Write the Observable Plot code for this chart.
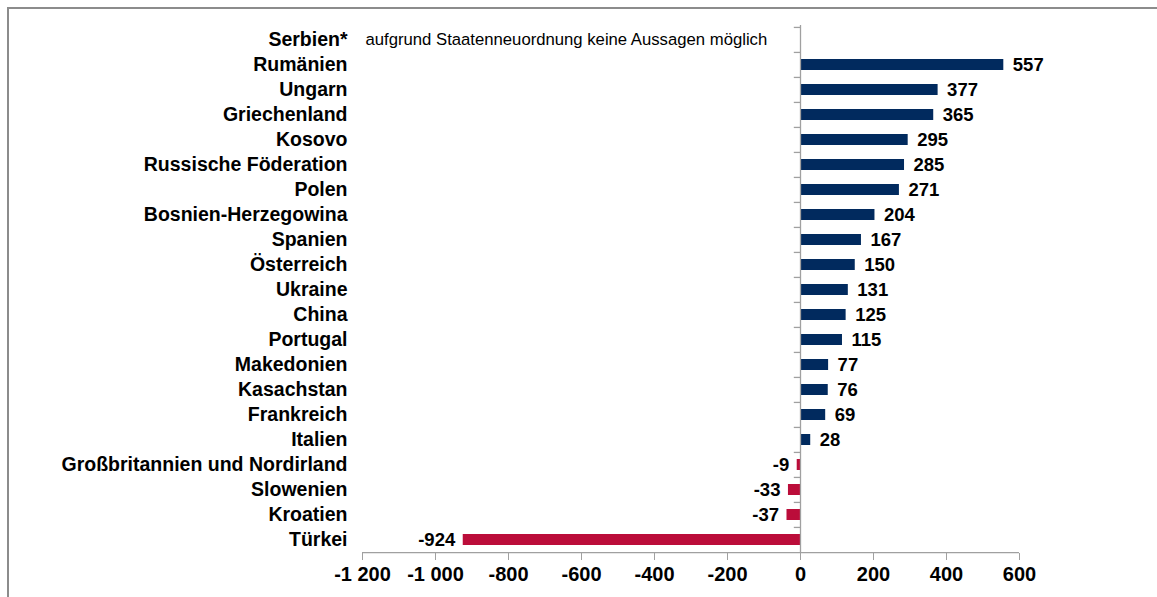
<!DOCTYPE html>
<html>
<head>
<meta charset="utf-8">
<script src="https://cdn.jsdelivr.net/npm/d3@7"></script>
<script src="https://cdn.jsdelivr.net/npm/@observablehq/plot@0.6"></script>
<style>
  html, body { margin: 0; padding: 0; background: #fff; }
  #wrap { position: relative; width: 1157px; height: 597px; font-family: "Liberation Sans", Arial, sans-serif; }
  #frame { position: absolute; left: 7px; top: 7px; right: 0; bottom: 0; border-left: 2px solid #8c8c8c; border-top: 2px solid #8c8c8c; pointer-events: none; }
  #chart { position: absolute; left: 0; top: 0; }
</style>
</head>
<body>
<div id="wrap"><div id="frame"></div><div id="chart"></div></div>
<script>
const countries = ["Serbien*", "Rumänien", "Ungarn", "Griechenland", "Kosovo", "Russische Föderation", "Polen", "Bosnien-Herzegowina", "Spanien", "Österreich", "Ukraine", "China", "Portugal", "Makedonien", "Kasachstan", "Frankreich", "Italien", "Großbritannien und Nordirland", "Slowenien", "Kroatien", "Türkei"];
const values = [null, 557, 377, 365, 295, 285, 271, 204, 167, 150, 131, 125, 115, 77, 76, 69, 28, -9, -33, -37, -924];
const xTicks = [-1200, -1000, -800, -600, -400, -200, 0, 200, 400, 600];
const note = "aufgrund Staatenneuordnung keine Aussagen möglich";
const noteCountry = "Serbien*";

const posColor = "#012a5e";
const negColor = "#bb0d3a";

const data = countries.map((c, i) => ({country: c, value: values[i]}));
const bars = data.filter(d => d.value != null);
const pos = bars.filter(d => d.value >= 0);
const neg = bars.filter(d => d.value < 0);
const fmt = d => (d < 0 ? "-" : "") + d3.format(",")(Math.abs(d)).replace(/,/g, " ");

const marginTop = 25, marginBottom = 44, H = 597;
const step = (H - marginTop - marginBottom) / countries.length;

const chart = Plot.plot({
  width: 1157,
  height: H,
  marginLeft: 362,
  marginRight: 138,
  marginTop,
  marginBottom,
  style: {fontFamily: "'Liberation Sans', Arial, sans-serif", background: "transparent", color: "#000"},
  x: {domain: [xTicks[0], xTicks[xTicks.length - 1]]},
  y: {domain: countries, padding: 0},
  marks: [
    Plot.barX(bars, {x: "value", y: "country", fill: d => d.value >= 0 ? posColor : negColor, insetTop: 7, insetBottom: 7}),
    Plot.ruleX([0], {stroke: "#a0a0a0", strokeWidth: 1.3}),
    Plot.ruleY(countries, {y: d => d, x1: -17, x2: 0, dy: -step / 2, stroke: "#a0a0a0", strokeWidth: 1.3}),
    Plot.ruleY([countries[countries.length - 1]], {y: d => d, x1: xTicks[0], x2: xTicks[xTicks.length - 1], dy: step / 2, stroke: "#a0a0a0", strokeWidth: 1.3}),
    Plot.axisX({ticks: xTicks, tickFormat: fmt, tickSize: 7, tickPadding: 6, fontSize: 20, fontWeight: "bold", stroke: "#a0a0a0", fill: "#000", label: null}),
    Plot.axisY({tickSize: 0, tickPadding: 15, fontSize: 19.5, fontWeight: "bold", fill: "#000", label: null}),
    Plot.text(pos, {x: "value", y: "country", text: d => fmt(d.value), textAnchor: "start", dx: 9, fontSize: 18.5, fontWeight: "bold", fill: "#000"}),
    Plot.text(neg, {x: "value", y: "country", text: d => fmt(d.value), textAnchor: "end", dx: -8, fontSize: 18.5, fontWeight: "bold", fill: "#000"}),
    Plot.text([noteCountry], {y: d => d, x: () => xTicks[0], text: () => note, textAnchor: "start", dx: 3, fontSize: 16.7, fill: "#000"})
  ]
});

document.getElementById("chart").appendChild(chart);
</script>
</body>
</html>
